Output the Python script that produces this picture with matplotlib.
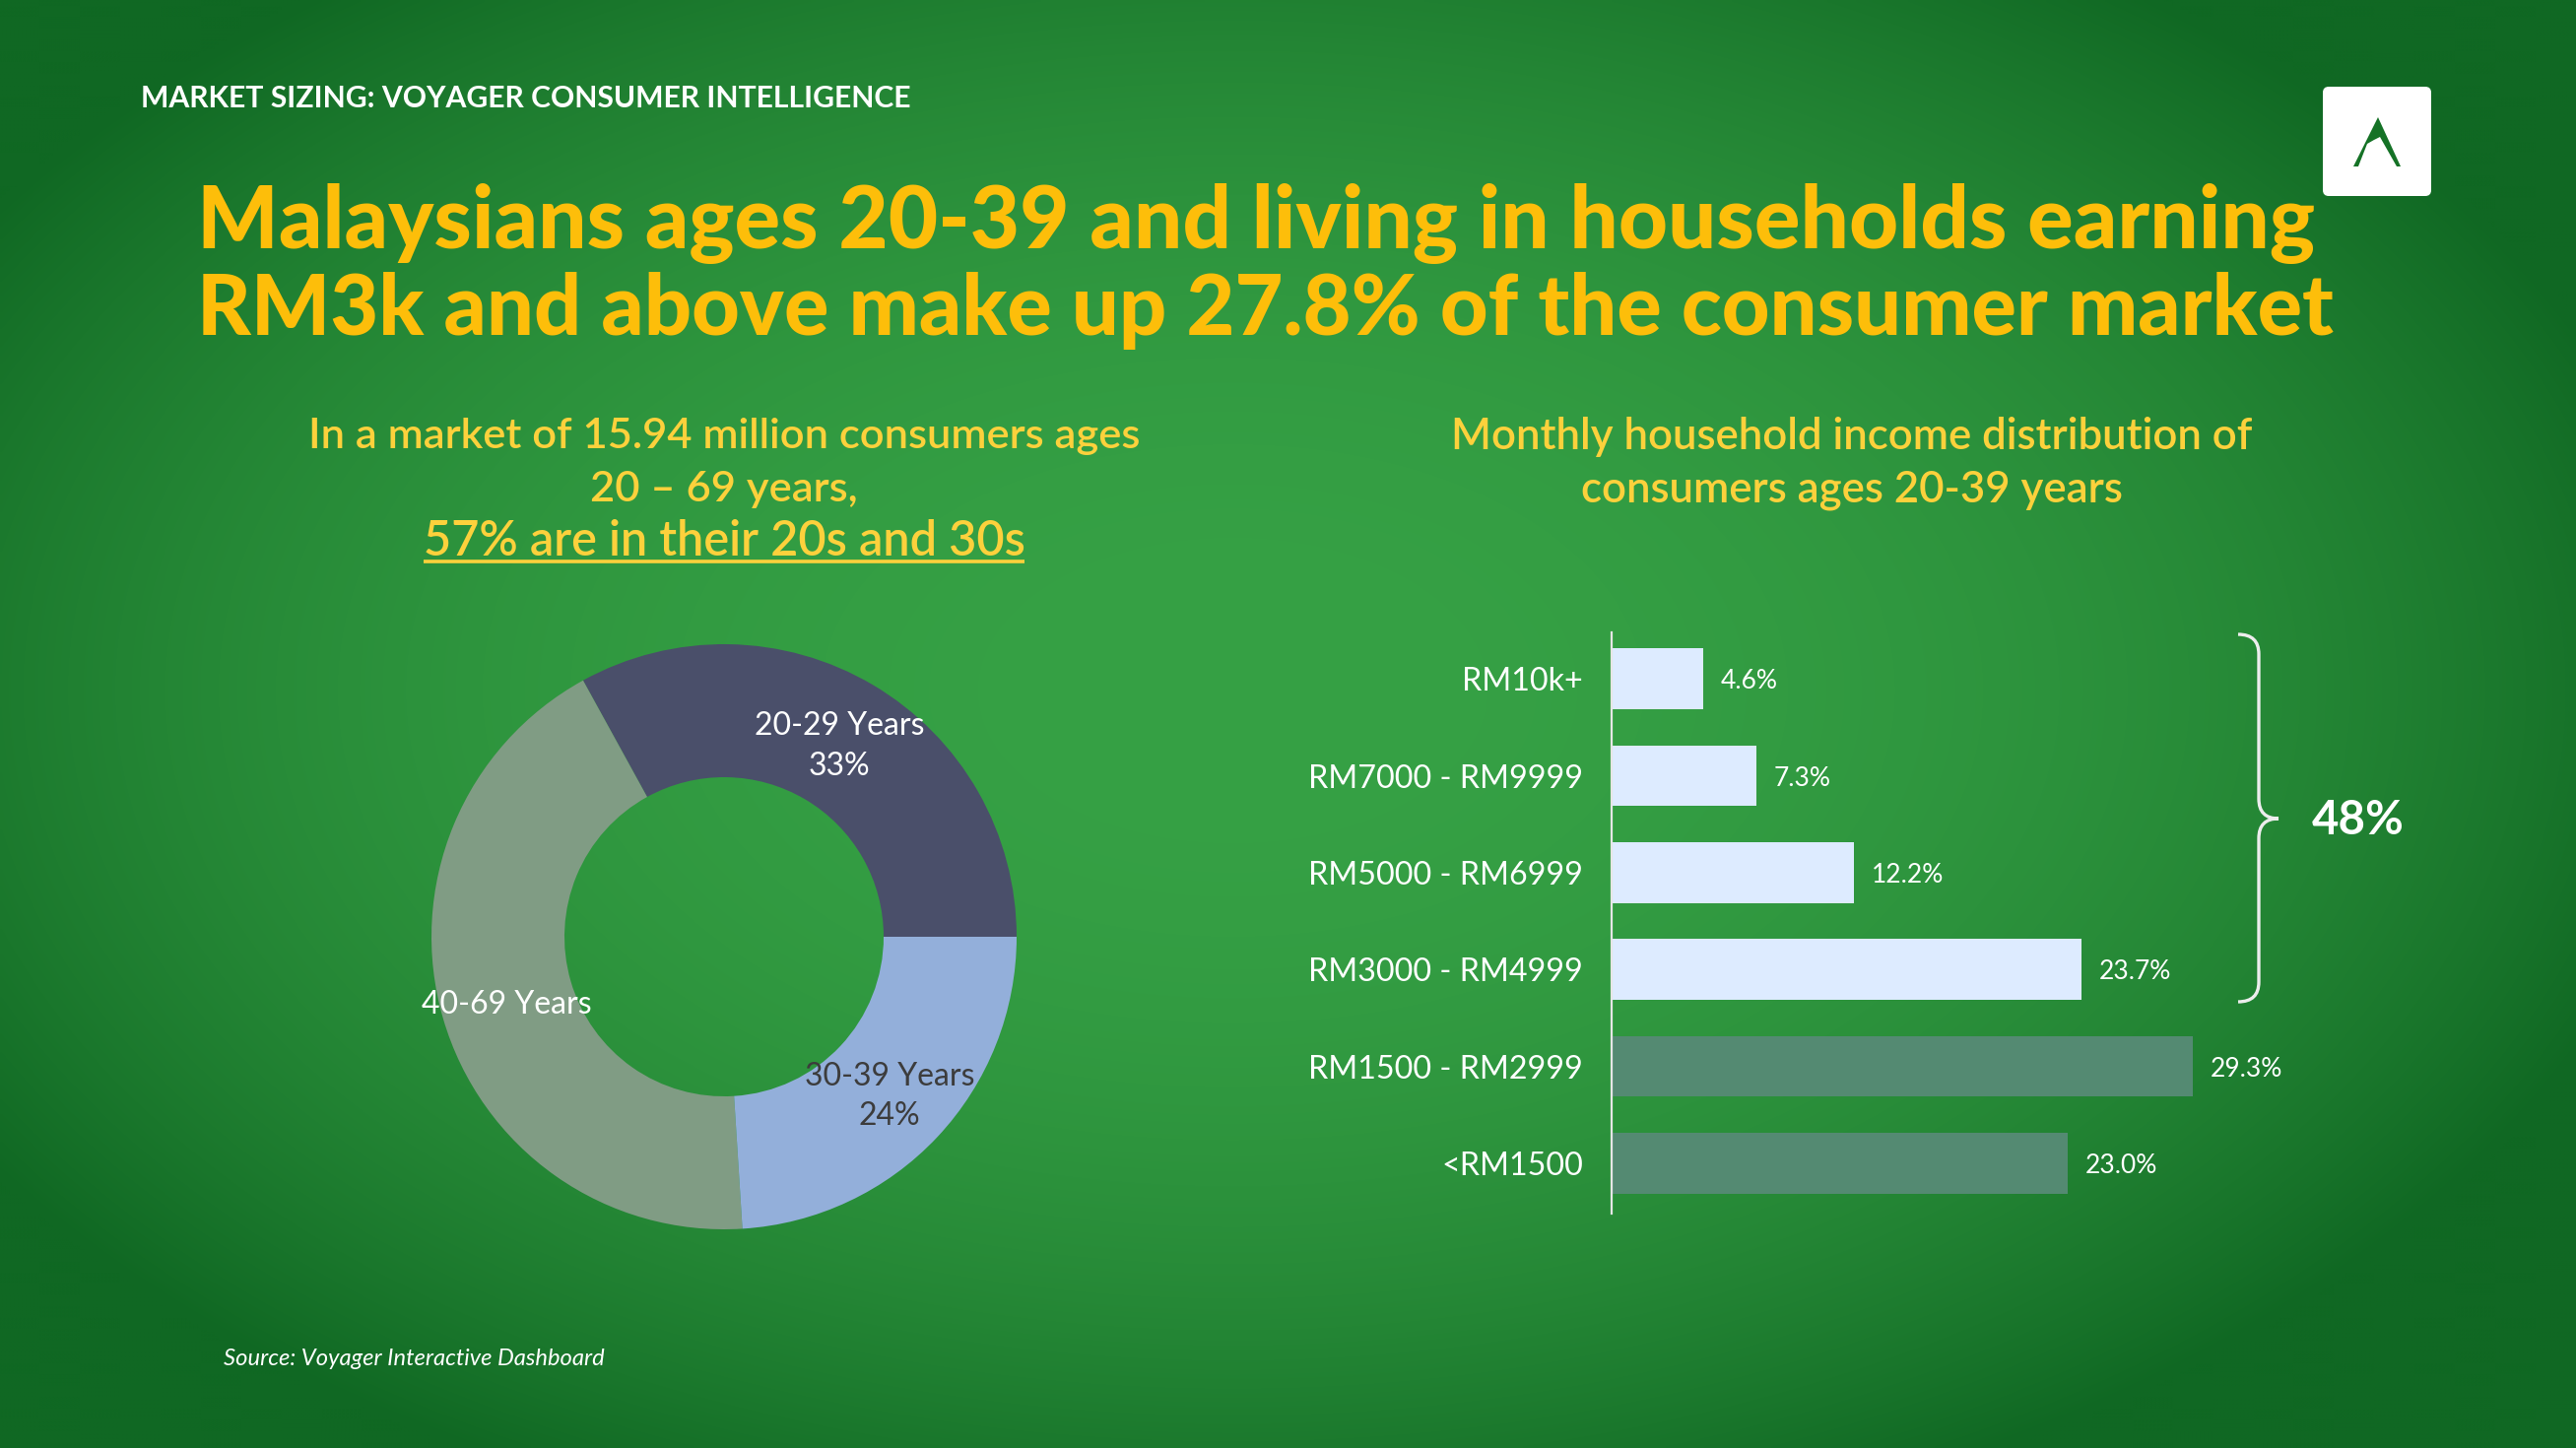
import numpy as np
import matplotlib
matplotlib.use("Agg")
import matplotlib.pyplot as plt
from matplotlib.patches import FancyBboxPatch, Polygon, PathPatch
from matplotlib.path import Path

# ---------------- data ----------------
header_text = "MARKET SIZING: VOYAGER CONSUMER INTELLIGENCE"
title_lines = ["Malaysians ages 20-39 and living in households earning",
               "RM3k and above make up 27.8% of the consumer market"]
left_sub = ["In a market of 15.94 million consumers ages", "20 \u2013 69 years,"]
left_sub_emph = "57% are in their 20s and 30s"
right_sub = ["Monthly household income distribution of", "consumers ages 20-39 years"]

donut_labels = ["20-29 Years", "40-69 Years", "30-39 Years"]
donut_values = [33, 43, 24]
donut_show_pct = [True, False, True]

income_cats = ["RM10k+", "RM7000 - RM9999", "RM5000 - RM6999", "RM3000 - RM4999",
               "RM1500 - RM2999", "<RM1500"]
income_vals = [4.6, 7.3, 12.2, 23.7, 29.3, 23.0]
income_highlight = [True, True, True, True, False, False]
bracket_text = "48%"
source_text = "Source: Voyager Interactive Dashboard"

# ---------------- figure ----------------
W, H = 2615, 1470
DPI = 100
fig = plt.figure(figsize=(W / DPI, H / DPI), dpi=DPI)
FONT = ["Lato", "DejaVu Sans"]
plt.rcParams["font.family"] = FONT

bg = fig.add_axes([0, 0, 1, 1])
bg.set_xlim(0, W)
bg.set_ylim(H, 0)
bg.axis("off")

# background radial gradient
yy, xx = np.mgrid[0:H:4, 0:W:4]
d = np.sqrt(((xx - 1250) / 1500.0) ** 2 + ((yy - 700) / 900.0) ** 2)
t = np.clip(d, 0, 1) ** 2.3
inner = np.array([0x36, 0xA1, 0x45]) / 255.0
outer = np.array([0x10, 0x68, 0x23]) / 255.0
img = inner[None, None, :] * (1 - t[..., None]) + outer[None, None, :] * t[..., None]
bg.imshow(img, extent=(0, W, H, 0), aspect="auto", zorder=0, interpolation="bilinear")

renderer = fig.canvas.get_renderer()


def fit(txt, target_w):
    w = txt.get_window_extent(renderer).width
    txt.set_fontsize(txt.get_fontsize() * target_w / w)
    return txt


# header
hdr = bg.text(143, 100, header_text, color="white", fontsize=20, fontweight="bold",
              ha="left", va="center", zorder=3)
fit(hdr, 784)

# logo
bg.add_patch(FancyBboxPatch((2358, 88), 110, 111, boxstyle="round,pad=0,rounding_size=6",
                            fc="white", ec="none", zorder=3))
bg.add_patch(Polygon([(2414, 119), (2437, 169), (2433, 169), (2416, 139), (2410, 142),
                      (2403, 146), (2394, 169), (2389, 169)], closed=True,
                     fc="#157226", ec="none", zorder=4))

# title
TITLE_C = "#FDBE0A"
t1 = bg.text(200, 227, title_lines[0], color=TITLE_C, fontsize=60, fontweight="black",
             ha="left", va="center", zorder=3)
fit(t1, 2150)
t2 = bg.text(200, 315, title_lines[1], color=TITLE_C, fontsize=60, fontweight="black",
             ha="left", va="center", zorder=3)
fit(t2, 2168)

# left subtitle
SUB_C = "#FCD13C"
s1 = bg.text(735, 443, left_sub[0], color=SUB_C, fontsize=25, fontweight="semibold",
             ha="center", va="center", zorder=3)
fit(s1, 844)
s2 = bg.text(735, 497, left_sub[1], color=SUB_C, fontsize=s1.get_fontsize(),
             fontweight="semibold", ha="center", va="center", zorder=3)
s3 = bg.text(735, 550, left_sub_emph, color=SUB_C, fontsize=28, fontweight="semibold",
             ha="center", va="center", zorder=3)
fit(s3, 611)
bb = s3.get_window_extent(renderer)
bg.plot([bb.x0, bb.x1], [570, 570], color=SUB_C, lw=2.6, solid_capstyle="butt", zorder=3)

# right subtitle
r1 = bg.text(1880, 443, right_sub[0], color=SUB_C, fontsize=25, fontweight="semibold",
             ha="center", va="center", zorder=3)
fit(r1, 814)
bg.text(1880, 497, right_sub[1], color=SUB_C, fontsize=r1.get_fontsize(),
        fontweight="semibold", ha="center", va="center", zorder=3)

# ---------------- donut ----------------
cx, cy, R, r = 735, 951, 297, 162
dax = fig.add_axes([(cx - R) / W, 1 - (cy + R) / H, 2 * R / W, 2 * R / H])
dax.patch.set_alpha(0)
wedges, _ = dax.pie(donut_values, startangle=0, counterclock=True,
                    colors=["#4A4F6A", "#809C84", "#93AFDA"],
                    wedgeprops=dict(width=1 - r / R, edgecolor="none"), radius=1)
dax.set_xlim(-1, 1)
dax.set_ylim(-1, 1)
dax.set_aspect("equal")
dax.axis("off")
lab_colors = ["white", "white", "#3C3C3C"]
total = sum(donut_values)
for w_, lab, v, sp, c in zip(wedges, donut_labels, donut_values, donut_show_pct, lab_colors):
    ang = np.deg2rad((w_.theta1 + w_.theta2) / 2)
    txt = lab + (f"\n{round(100 * v / total)}%" if sp else "")
    dax.text(0.775 * np.cos(ang), 0.775 * np.sin(ang) - 0.015, txt, color=c, fontsize=23,
             ha="center", va="center", linespacing=1.45)

# ---------------- bars ----------------
px_per = 20.13
ax_left, ax_top, ax_bot = 1636, 642, 1232
xmax = 35
bax = fig.add_axes([ax_left / W, 1 - ax_bot / H, xmax * px_per / W, (ax_bot - ax_top) / H])
bax.patch.set_alpha(0)
ypos = np.arange(len(income_cats))
colors = ["#DDEBFF" if h else "#548A72" for h in income_highlight]
bax.barh(ypos, income_vals, height=0.627, color=colors, edgecolor="none")
bax.set_xlim(0, xmax)
bax.set_ylim(len(income_cats) - 0.48, -0.48)
for s in ["top", "right", "bottom"]:
    bax.spines[s].set_visible(False)
bax.spines["left"].set_color("#E6E6E6")
bax.spines["left"].set_linewidth(1.6)
bax.set_xticks([])
bax.set_yticks(ypos)
bax.set_yticklabels(income_cats, color="white", fontsize=23.2, va="center_baseline")
bax.tick_params(axis="y", length=0, pad=21)
for y, v in zip(ypos, income_vals):
    bax.annotate(f"{v:.1f}%", (v, y), xytext=(13, 0), textcoords="offset points",
                 color="white", fontsize=19, ha="left", va="center_baseline")

# bracket
bx0, bx1, tipx = 2272, 2293, 2313
ytop, ytip, ybot = 644, 831, 1017
verts = [(bx0, ytop), (bx1, ytop), (bx1, ytop + 20),
         (bx1, ytip - 20),
         (bx1, ytip), (tipx, ytip),
         (bx1, ytip), (bx1, ytip + 20),
         (bx1, ybot - 20),
         (bx1, ybot), (bx0, ybot)]
codes = [Path.MOVETO, Path.CURVE3, Path.CURVE3, Path.LINETO, Path.CURVE3, Path.CURVE3,
         Path.CURVE3, Path.CURVE3, Path.LINETO, Path.CURVE3, Path.CURVE3]
bg.add_patch(PathPatch(Path(verts, codes), fc="none", ec="#EDEDED", lw=2.4, zorder=3))
pt = bg.text(2347, 833, bracket_text, color="white", fontsize=34, fontweight="bold",
             ha="left", va="center", zorder=3)
fit(pt, 94)

# source
src = bg.text(227, 1379, source_text, color="white", fontsize=15, style="italic",
              ha="left", va="center", zorder=3)
fit(src, 387)

fig.savefig("out.png", dpi=DPI)
